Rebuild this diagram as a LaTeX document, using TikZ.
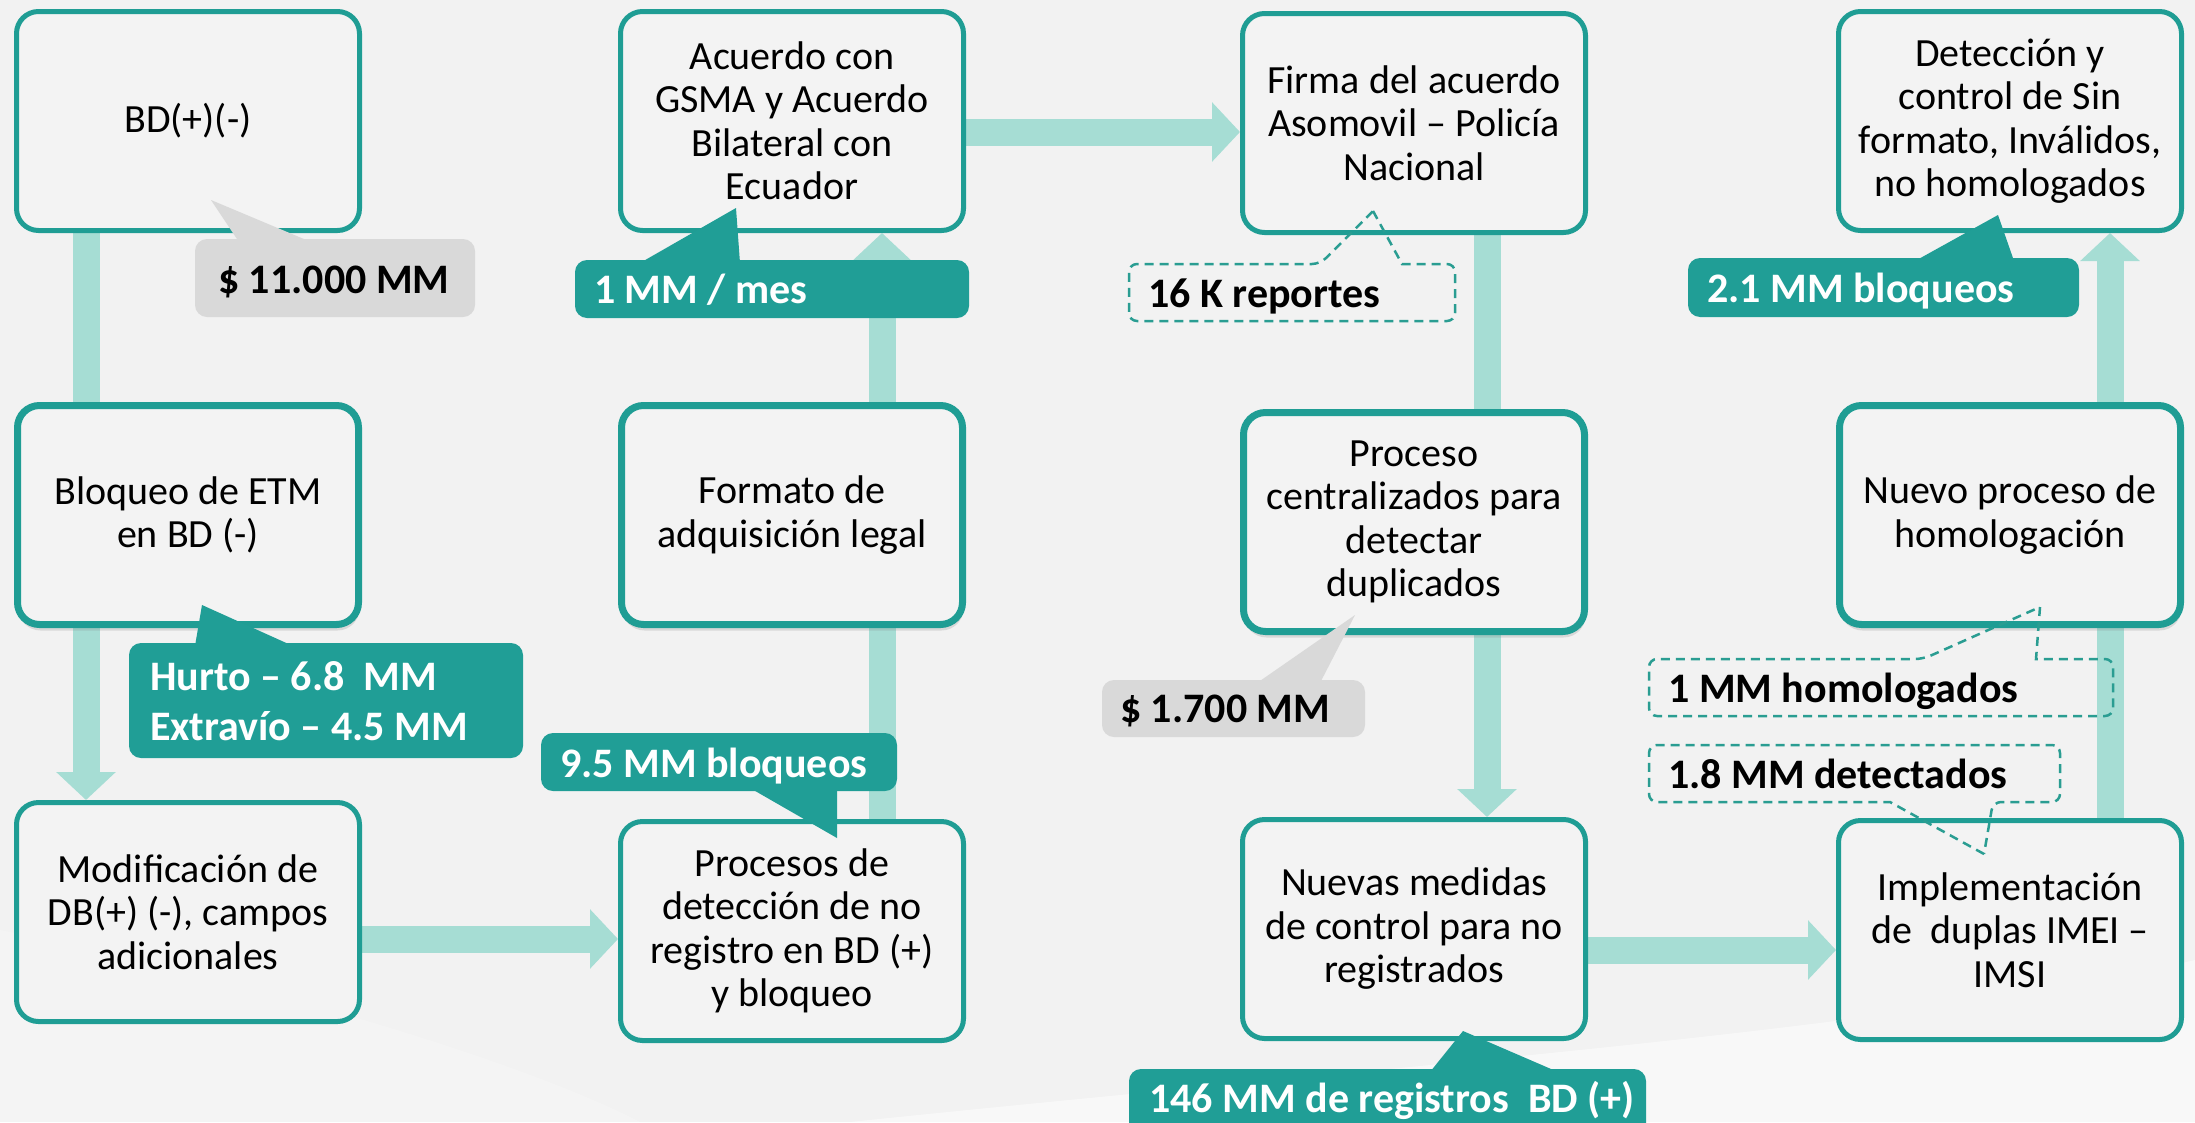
\documentclass[tikz,border=0pt]{standalone}
\usepackage{fontspec}
\setmainfont{Carlito}
\usetikzlibrary{arrows.meta,shadows,calc}
\definecolor{bgc}{HTML}{F2F2F2}
\definecolor{boxfill}{HTML}{F3F3F3}
\definecolor{tealb}{HTML}{1F9D94}
\definecolor{tealc}{HTML}{209E96}
\definecolor{arrowc}{HTML}{A6DDD4}
\definecolor{grayc}{HTML}{D9D9D9}
\definecolor{dashc}{HTML}{2A9D92}
\pgfdeclarelayer{back}
\pgfdeclarelayer{arrows}
\pgfsetlayers{back,arrows,main}
\begin{document}
\begin{tikzpicture}[x=1pt,y=-1pt,
  stepbox/.style={draw=tealb, line width=5pt, fill=boxfill, rounded corners=22pt,
    minimum width=343pt, minimum height=219pt, align=center, inner sep=0pt,
    font=\fontsize{40}{43.5}\selectfont},
  midbox/.style={stepbox, line width=7pt, minimum width=341pt, minimum height=219pt,
    drop shadow={shadow xshift=1pt, shadow yshift=-6pt, opacity=0.22}},
  flow/.style={draw=arrowc, line width=27pt},
  flowtip/.style={flow, -{Triangle[length=28pt,width=58pt]}},
  tealcall/.style={fill=tealc, rounded corners=12pt},
  graycall/.style={fill=grayc, rounded corners=12pt},
  dashcall/.style={draw=dashc, line width=2.5pt, dash pattern=on 9pt off 6pt},
  calltext/.style={font=\bfseries\fontsize{42}{50}\selectfont, anchor=base west, inner sep=0pt},
  wtext/.style={calltext, text=white}
]
\useasboundingbox (0,0) rectangle (2195,1122);
\begin{pgfonlayer}{back}
  \fill[bgc] (0,0) rectangle (2195,1122);
  \fill[white, opacity=0.5] (850,1122) .. controls (1450,1060) and (1900,1030) .. (2195,960) -- (2195,1122) -- cycle;
  \fill[white, opacity=0.2] (0,930) .. controls (250,980) and (520,1060) .. (640,1122) -- (0,1122) -- cycle;
\end{pgfonlayer}

% boxes
\node[stepbox] (b1) at (188,121) {BD(+)(-)};
\node[midbox]  (b2) at (188,515) {Bloqueo de ETM\\en BD (-)};
\node[stepbox] (b3) at (188,912) {Modificación de\\DB(+) (-), campos\\adicionales};
\node[stepbox] (b4) at (792,121) {Acuerdo con\\GSMA y Acuerdo\\Bilateral con\\Ecuador};
\node[midbox]  (b5) at (792,515) {Formato de\\adquisición legal};
\node[stepbox] (b6) at (792,931) {Procesos de\\detección de no\\registro en BD (+)\\y bloqueo};
\node[stepbox] (b7) at (1414,123) {Firma del acuerdo\\Asomovil – Policía\\Nacional};
\node[midbox]  (b8) at (1414,522) {Proceso\\centralizados para\\detectar\\duplicados};
\node[stepbox] (b9) at (1414,929) {Nuevas medidas\\de control para no\\registrados};
\node[stepbox] (b10) at (2010,121) {Detección y\\control de Sin\\formato, Inválidos,\\no homologados};
\node[midbox]  (b11) at (2010,515) {Nuevo proceso de\\homologación};
\node[stepbox] (b12) at (2010,930) {Implementación\\de~ duplas IMEI –\\IMSI};

% connectors
\begin{pgfonlayer}{arrows}
  \draw[flow]    ([xshift=72pt]b1.south west) -- ([xshift=72pt]b2.north west);
  \draw[flowtip] ([xshift=72pt]b2.south west) -- ([xshift=72pt]b3.north west);
  \coordinate (s3) at ([yshift=-27pt]b3.east);
  \draw[flowtip] (s3) -- (s3 -| b6.west);
  \draw[flow]    ([xshift=264pt]b6.north west) -- ([xshift=264pt]b5.south west);
  \draw[flowtip] ([xshift=264pt]b5.north west) -- ([xshift=264pt]b4.south west);
  \coordinate (s4) at ([yshift=-11pt]b4.east);
  \draw[flowtip] (s4) -- (s4 -| b7.west);
  \draw[flow]    ([xshift=247pt]b7.south west) -- ([xshift=247pt]b8.north west);
  \draw[flowtip] ([xshift=247pt]b8.south west) -- ([xshift=247pt]b9.north west);
  \coordinate (s9) at ([yshift=-21pt]b9.east);
  \draw[flowtip] (s9) -- (s9 -| b12.west);
  \draw[flow]    ([xshift=274pt]b12.north west) -- ([xshift=274pt]b11.south west);
  \draw[flowtip] ([xshift=274pt]b11.north west) -- ([xshift=274pt]b10.south west);
\end{pgfonlayer}

% callouts
\fill[graycall] (195,239) rectangle (475,317);
\fill[grayc] (211,200) -- (239,242) -- (311,242) -- cycle;
\node[calltext] (c1) at (218,293) {\$ 11.000 MM};

\fill[tealcall] (129,643) rectangle (523,758);
\fill[tealc] (202,605) -- (195,646) -- (293,646) -- cycle;
\node[wtext] (c2a) at (150,690) {Hurto – 6.8~ MM};
\node[wtext] (c2b) at (150,740) {Extravío – 4.5 MM};

\fill[tealcall] (575,260) rectangle (969,318);
\fill[tealc] (736,208) -- (640,263) -- (740,263) -- cycle;
\node[wtext] (c3) at (594,303) {1 MM / mes};

\fill[tealcall] (541,733) rectangle (897,791);
\fill[tealc] (837,838) -- (750,788) -- (837,788) -- cycle;
\node[wtext] (c4) at (560,777) {9.5 MM bloqueos};

\draw[dashcall] (1373,211) -- (1402,264) [rounded corners=8pt] -- (1455,264) -- (1455,321) -- (1129,321) -- (1129,264) -- (1320,264) [sharp corners] -- cycle;
\node[calltext] (c5) at (1148,307) {16 K reportes};

\fill[graycall] (1102,680) rectangle (1365,737);
\fill[grayc] (1355,615) -- (1257,683) -- (1320,683) -- cycle;
\node[calltext] (c6) at (1120,722) {\$ 1.700 MM};

\fill[tealcall] (1129,1069) rectangle (1646,1140);
\fill[tealc] (1463,1031) -- (1430,1072) -- (1558,1072) -- cycle;
\node[wtext] (c7) at (1149,1112) {146 MM de registros~ BD (+)};

\fill[tealcall] (1688,258) rectangle (2079,317);
\fill[tealc] (1998,215) -- (1915,261) -- (2014,261) -- cycle;
\node[wtext] (c8) at (1707,302) {2.1 MM bloqueos};

\draw[dashcall] (2040,607) -- (2036,659) [rounded corners=8pt] -- (2113,659) -- (2113,716) -- (1649,716) -- (1649,659) -- (1923,659) [sharp corners] -- cycle;
\node[calltext] (c9) at (1668,702) {1 MM homologados};

\draw[dashcall] (1984,854) -- (1890,802) [rounded corners=8pt] -- (1649,802) -- (1649,745) -- (2060,745) -- (2060,802) -- (1993,802) [sharp corners] -- cycle;
\node[calltext] (c10) at (1668,788) {1.8 MM detectados};
\end{tikzpicture}
\end{document}
